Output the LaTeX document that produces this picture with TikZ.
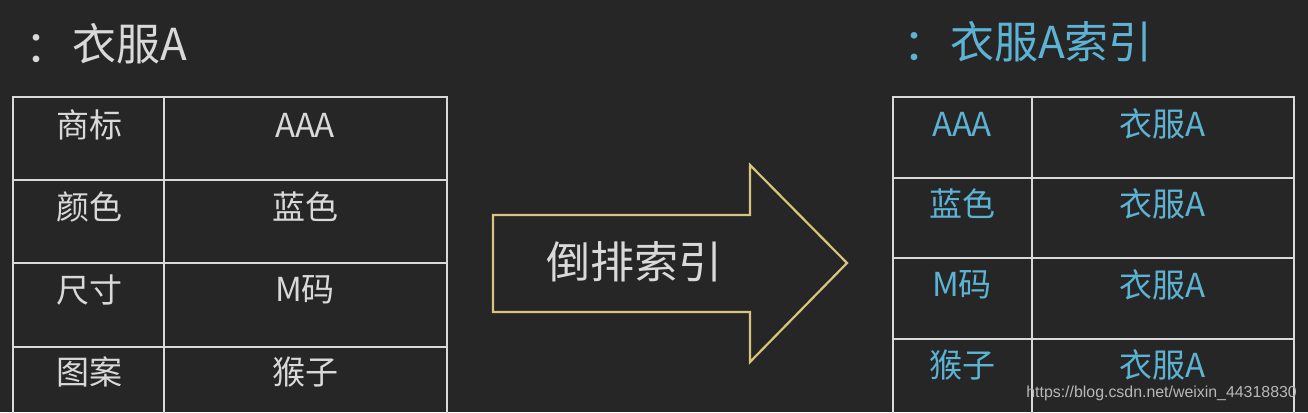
\documentclass[tikz,border=0pt]{standalone}
\usepackage{fontspec}
\setmainfont{Liberation Sans}
\newfontfamily\cjk{Noto Sans CJK SC}
\definecolor{board}{HTML}{262626}
\definecolor{chalk}{HTML}{D9D9D9}
\definecolor{sky}{HTML}{5DB3D3}
\definecolor{gold}{HTML}{D8C47E}
\tikzset{
  gridline/.style={draw=chalk, line width=2pt},
  celltext/.style={font=\cjk\fontsize{33}{33}\selectfont, text=chalk, inner sep=0pt},
  bluetext/.style={font=\cjk\fontsize{33}{33}\selectfont, text=sky, inner sep=0pt},
  titletext/.style={font=\cjk\fontsize{44}{44}\selectfont, inner sep=0pt},
  arrowshape/.style={draw=gold, line width=2.2pt, line join=miter},
  marktext/.style={font=\fontsize{15.9}{16}\selectfont, text=chalk!85!black, inner sep=0pt}
}
\begin{document}
\begin{tikzpicture}[x=1pt,y=-1pt]
\fill[board] (0,0) rectangle (1308,412);
\useasboundingbox (0,0) rectangle (1308,412);
\begin{scope}
\clip (0,0) rectangle (1308,412);
% left table
\draw[gridline] (13,420) -- (13,97) -- (447,97) -- (447,420);
\draw[gridline] (164,97) -- (164,420);
\foreach \y in {180,263,347} \draw[gridline] (13,\y) -- (447,\y);
% right table
\draw[gridline] (893,420) -- (893,97) -- (1294,97) -- (1294,420);
\draw[gridline] (1032,97) -- (1032,420);
\foreach \y in {178,258,339} \draw[gridline] (893,\y) -- (1294,\y);
\end{scope}
% titles
\node[titletext, text=chalk] (lcolon) at (47,49) {：};
\node[titletext, text=chalk, anchor=west] (ltitle) at (72,44) {衣服A};
\node[titletext, text=sky] (rcolon) at (925,47) {：};
\node[titletext, text=sky, anchor=west] (rtitle) at (950,42) {衣服A索引};
% left cells
\node[celltext] (l1a) at (89,125) {商标};
\node[celltext] (l1b) at (305,125) {AAA};
\node[celltext] (l2a) at (89,207) {颜色};
\node[celltext] (l2b) at (305,207) {蓝色};
\node[celltext] (l3a) at (89,290) {尺寸};
\node[celltext] (l3b) at (305,290) {M码};
\node[celltext] (l4a) at (89,372) {图案};
\node[celltext] (l4b) at (305,372) {猴子};
% right cells
\node[bluetext] (r1a) at (962,124) {AAA};
\node[bluetext] (r1b) at (1163,124) {衣服A};
\node[bluetext] (r2a) at (962,204) {蓝色};
\node[bluetext] (r2b) at (1163,204) {衣服A};
\node[bluetext] (r3a) at (962,285) {M码};
\node[bluetext] (r3b) at (1163,285) {衣服A};
\node[bluetext] (r4a) at (962,365) {猴子};
\node[bluetext] (r4b) at (1163,365) {衣服A};
% arrow
\draw[arrowshape] (493,215) -- (750,215) -- (750,165) -- (847,263) -- (750,362) -- (750,312) -- (493,312) -- cycle;
\node[font=\cjk\fontsize{44}{44}\selectfont, text=chalk, inner sep=0pt] (arrowlabel) at (634,262) {倒排索引};
% watermark
\node[marktext, anchor=east] (mark) at (1297,393) {https://blog.csdn.net/weixin\_44318830};
\end{tikzpicture}
\end{document}
